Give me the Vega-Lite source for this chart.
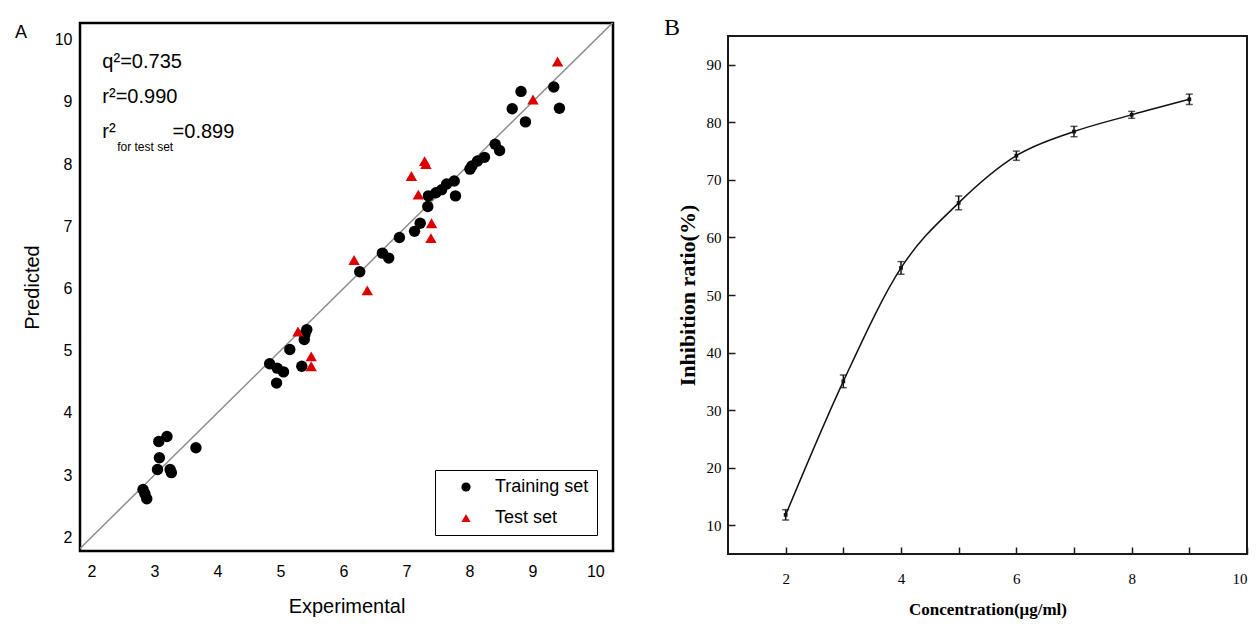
{
  "$schema": "https://vega.github.io/schema/vega-lite/v6.json",
  "background": "white",
  "padding": {"left": 13, "top": 15, "right": 5, "bottom": 5},
  "spacing": 47,
  "config": {"axis": {"grid": false}},
  "resolve": {"legend": {"color": "independent", "shape": "independent"}, "scale": {"color": "independent", "shape": "independent"}},
  "datasets": {
    "qsar": [
      {"exp": 2.82, "pred": 2.77, "set": "Training set"},
      {"exp": 2.85, "pred": 2.70, "set": "Training set"},
      {"exp": 2.88, "pred": 2.62, "set": "Training set"},
      {"exp": 3.05, "pred": 3.09, "set": "Training set"},
      {"exp": 3.08, "pred": 3.28, "set": "Training set"},
      {"exp": 3.07, "pred": 3.54, "set": "Training set"},
      {"exp": 3.20, "pred": 3.62, "set": "Training set"},
      {"exp": 3.25, "pred": 3.09, "set": "Training set"},
      {"exp": 3.27, "pred": 3.04, "set": "Training set"},
      {"exp": 3.66, "pred": 3.44, "set": "Training set"},
      {"exp": 4.83, "pred": 4.79, "set": "Training set"},
      {"exp": 4.95, "pred": 4.72, "set": "Training set"},
      {"exp": 4.94, "pred": 4.48, "set": "Training set"},
      {"exp": 5.05, "pred": 4.66, "set": "Training set"},
      {"exp": 5.15, "pred": 5.02, "set": "Training set"},
      {"exp": 5.34, "pred": 4.75, "set": "Training set"},
      {"exp": 5.38, "pred": 5.18, "set": "Training set"},
      {"exp": 5.42, "pred": 5.34, "set": "Training set"},
      {"exp": 5.39, "pred": 5.26, "set": "Training set"},
      {"exp": 6.26, "pred": 6.27, "set": "Training set"},
      {"exp": 6.62, "pred": 6.57, "set": "Training set"},
      {"exp": 6.72, "pred": 6.49, "set": "Training set"},
      {"exp": 6.89, "pred": 6.82, "set": "Training set"},
      {"exp": 7.13, "pred": 6.92, "set": "Training set"},
      {"exp": 7.22, "pred": 7.05, "set": "Training set"},
      {"exp": 7.34, "pred": 7.32, "set": "Training set"},
      {"exp": 7.35, "pred": 7.49, "set": "Training set"},
      {"exp": 7.47, "pred": 7.54, "set": "Training set"},
      {"exp": 7.56, "pred": 7.59, "set": "Training set"},
      {"exp": 7.64, "pred": 7.68, "set": "Training set"},
      {"exp": 7.76, "pred": 7.73, "set": "Training set"},
      {"exp": 7.78, "pred": 7.49, "set": "Training set"},
      {"exp": 8.01, "pred": 7.92, "set": "Training set"},
      {"exp": 8.04, "pred": 7.97, "set": "Training set"},
      {"exp": 8.13, "pred": 8.05, "set": "Training set"},
      {"exp": 8.24, "pred": 8.11, "set": "Training set"},
      {"exp": 8.41, "pred": 8.32, "set": "Training set"},
      {"exp": 8.48, "pred": 8.22, "set": "Training set"},
      {"exp": 8.68, "pred": 8.89, "set": "Training set"},
      {"exp": 8.82, "pred": 9.17, "set": "Training set"},
      {"exp": 8.89, "pred": 8.68, "set": "Training set"},
      {"exp": 9.34, "pred": 9.24, "set": "Training set"},
      {"exp": 9.43, "pred": 8.90, "set": "Training set"},
      {"exp": 5.28, "pred": 5.31, "set": "Test set"},
      {"exp": 5.49, "pred": 4.91, "set": "Test set"},
      {"exp": 5.49, "pred": 4.75, "set": "Test set"},
      {"exp": 6.17, "pred": 6.46, "set": "Test set"},
      {"exp": 6.38, "pred": 5.97, "set": "Test set"},
      {"exp": 7.08, "pred": 7.81, "set": "Test set"},
      {"exp": 7.29, "pred": 8.05, "set": "Test set"},
      {"exp": 7.31, "pred": 8.00, "set": "Test set"},
      {"exp": 7.19, "pred": 7.51, "set": "Test set"},
      {"exp": 7.40, "pred": 7.05, "set": "Test set"},
      {"exp": 7.39, "pred": 6.81, "set": "Test set"},
      {"exp": 9.01, "pred": 9.04, "set": "Test set"},
      {"exp": 9.40, "pred": 9.65, "set": "Test set"}
    ],
    "diag": [{"exp": 1.5, "pred": 1.5}, {"exp": 10.5, "pred": 10.5}],
    "notes": [
      {"label": "q²=0.735"},
      {"label": "r²=0.990"},
      {"label": "r²"},
      {"label": "for test set"},
      {"label": "=0.899"},
      {"label": "A"},
      {"label": "B"}
    ],
    "inhib": [
      {"conc": 2, "ratio": 11.8, "err": 0.9},
      {"conc": 3, "ratio": 35.0, "err": 1.1},
      {"conc": 4, "ratio": 54.7, "err": 1.1},
      {"conc": 5, "ratio": 66.0, "err": 1.2},
      {"conc": 6, "ratio": 74.2, "err": 0.8},
      {"conc": 7, "ratio": 78.4, "err": 0.9},
      {"conc": 8, "ratio": 81.3, "err": 0.6},
      {"conc": 9, "ratio": 84.0, "err": 0.9}
    ]
  },
  "hconcat": [
    {
      "width": 533,
      "height": 528,
      "view": {"stroke": "black", "strokeWidth": 2.5},
      "layer": [
        {
          "data": {"name": "diag"},
          "mark": {"type": "line", "color": "#8c8c8c", "strokeWidth": 1.5, "clip": true},
          "encoding": {
            "x": {"field": "exp", "type": "quantitative", "title": "Experimental", "scale": {"domain": [1.82, 10.28], "nice": false, "zero": false}},
            "y": {"field": "pred", "type": "quantitative", "title": "Predicted", "scale": {"domain": [1.78, 10.27], "nice": false, "zero": false}}
          }
        },
        {
          "data": {"name": "qsar"},
          "mark": {"type": "point", "filled": true, "opacity": 1, "size": 130},
          "encoding": {
            "x": {"field": "exp", "type": "quantitative", "title": "Experimental", "scale": {"domain": [1.82, 10.28], "nice": false, "zero": false},
                  "axis": {"title": "Experimental", "values": [2, 3, 4, 5, 6, 7, 8, 9, 10], "format": "d", "ticks": false, "domain": false,
                           "labelFont": "Liberation Sans", "labelFontSize": 16, "labelColor": "black", "labelPadding": 12,
                           "titleFont": "Liberation Sans", "titleFontSize": 20, "titleFontWeight": "normal", "titleColor": "black", "titlePadding": 17}},
            "y": {"field": "pred", "type": "quantitative", "title": "Predicted", "scale": {"domain": [1.78, 10.27], "nice": false, "zero": false},
                  "axis": {"title": "Predicted", "values": [2, 3, 4, 5, 6, 7, 8, 9, 10], "format": "d", "ticks": false, "domain": false,
                           "labelFont": "Liberation Sans", "labelFontSize": 16, "labelColor": "black", "labelPadding": 8,
                           "titleFont": "Liberation Sans", "titleFontSize": 20, "titleFontWeight": "normal", "titleColor": "black", "titlePadding": 12}},
            "color": {"field": "set", "type": "nominal", "scale": {"domain": ["Training set", "Test set"], "range": ["black", "#dd0000"]},
                      "legend": {"title": null, "orient": "bottom-right", "offset": 16, "strokeColor": "black", "fillColor": "white", "padding": 8,
                                 "symbolOffset": 14, "labelOffset": 20, "labelFont": "Liberation Sans", "labelFontSize": 18, "labelColor": "black",
                                 "symbolSize": 85, "rowPadding": 13}},
            "shape": {"field": "set", "type": "nominal", "scale": {"domain": ["Training set", "Test set"], "range": ["circle", "triangle-up"]}}
          }
        },
        {
          "data": {"name": "notes"},
          "transform": [{"filter": "datum.label === 'q²=0.735'"}],
          "mark": {"type": "text", "align": "left", "baseline": "middle", "font": "Liberation Sans", "fontSize": 20, "color": "black"},
          "encoding": {"x": {"datum": 2.175, "type": "quantitative"}, "y": {"datum": 9.64, "type": "quantitative"}, "text": {"field": "label"}}
        },
        {
          "data": {"name": "notes"},
          "transform": [{"filter": "datum.label === 'r²=0.990'"}],
          "mark": {"type": "text", "align": "left", "baseline": "middle", "font": "Liberation Sans", "fontSize": 20, "color": "black"},
          "encoding": {"x": {"datum": 2.175, "type": "quantitative"}, "y": {"datum": 9.08, "type": "quantitative"}, "text": {"field": "label"}}
        },
        {
          "data": {"name": "notes"},
          "transform": [{"filter": "datum.label === 'r²'"}],
          "mark": {"type": "text", "align": "left", "baseline": "middle", "font": "Liberation Sans", "fontSize": 20, "color": "black"},
          "encoding": {"x": {"datum": 2.175, "type": "quantitative"}, "y": {"datum": 8.52, "type": "quantitative"}, "text": {"field": "label"}}
        },
        {
          "data": {"name": "notes"},
          "transform": [{"filter": "datum.label === 'for test set'"}],
          "mark": {"type": "text", "align": "left", "baseline": "middle", "font": "Liberation Sans", "fontSize": 12, "color": "black"},
          "encoding": {"x": {"datum": 2.41, "type": "quantitative"}, "y": {"datum": 8.28, "type": "quantitative"}, "text": {"field": "label"}}
        },
        {
          "data": {"name": "notes"},
          "transform": [{"filter": "datum.label === '=0.899'"}],
          "mark": {"type": "text", "align": "left", "baseline": "middle", "font": "Liberation Sans", "fontSize": 20, "color": "black"},
          "encoding": {"x": {"datum": 3.29, "type": "quantitative"}, "y": {"datum": 8.52, "type": "quantitative"}, "text": {"field": "label"}}
        },
        {
          "data": {"name": "notes"},
          "transform": [{"filter": "datum.label === 'A'"}],
          "mark": {"type": "text", "align": "left", "baseline": "alphabetic", "font": "Liberation Sans", "fontSize": 18, "color": "black"},
          "encoding": {"x": {"datum": 0.788, "type": "quantitative"}, "y": {"datum": 10.03, "type": "quantitative"}, "text": {"field": "label"}}
        }
      ]
    },
    {
      "spacing": -9,
      "vconcat": [
        {
          "width": 519,
          "height": 1,
          "view": {"stroke": null},
          "data": {"name": "notes"},
          "mark": {"type": "rect", "opacity": 0}
        },
        {
          "width": 519,
          "height": 518,
          "view": {"stroke": "#1a1a1a", "strokeWidth": 2},
          "layer": [
            {
              "data": {"name": "inhib"},
              "mark": {"type": "line", "interpolate": "monotone", "color": "#111111", "strokeWidth": 1.5},
              "encoding": {
                "x": {"field": "conc", "type": "quantitative", "title": "Concentration(μg/ml)", "scale": {"domain": [1, 10], "nice": false, "zero": false},
                      "axis": {"title": "Concentration(μg/ml)", "values": [2, 3, 4, 5, 6, 7, 8, 9, 10], "format": "d", "labelExpr": "datum.value % 2 === 0 ? datum.label : ''",
                               "tickSize": -7, "tickColor": "#1a1a1a", "tickWidth": 1.5, "domain": false, "labelPadding": 24,
                               "labelFont": "Liberation Serif", "labelFontSize": 15, "labelColor": "black",
                               "titleFont": "Liberation Serif", "titleFontSize": 17, "titleFontWeight": "bold", "titleColor": "black", "titlePadding": 15}},
                "y": {"field": "ratio", "type": "quantitative", "title": "Inhibition ratio(%)", "scale": {"domain": [5, 95], "nice": false, "zero": false},
                      "axis": {"title": "Inhibition ratio(%)", "values": [10, 15, 20, 25, 30, 35, 40, 45, 50, 55, 60, 65, 70, 75, 80, 85, 90], "format": "d", "labelExpr": "datum.value % 10 === 0 ? datum.label : ''",
                               "tickSize": -7, "tickColor": "#1a1a1a", "tickWidth": 1.5, "domain": false, "labelPadding": 14,
                               "labelFont": "Liberation Serif", "labelFontSize": 15, "labelColor": "black",
                               "titleFont": "Liberation Serif", "titleFontSize": 22, "titleFontWeight": "bold", "titleColor": "black", "titlePadding": 7}}
              }
            },
            {
              "data": {"name": "inhib"},
              "mark": {"type": "errorbar", "color": "#111111", "ticks": {"size": 7, "thickness": 1.5}, "thickness": 1.5},
              "encoding": {
                "x": {"field": "conc", "type": "quantitative", "title": "Concentration(μg/ml)", "scale": {"domain": [1, 10], "nice": false, "zero": false}},
                "y": {"field": "ratio", "type": "quantitative", "title": "Inhibition ratio(%)", "scale": {"domain": [5, 95], "nice": false, "zero": false}},
                "yError": {"field": "err"}
              }
            },
            {
              "data": {"name": "inhib"},
              "mark": {"type": "point", "shape": "square", "filled": true, "size": 14, "color": "#111111", "opacity": 1},
              "encoding": {
                "x": {"field": "conc", "type": "quantitative", "title": "Concentration(μg/ml)", "scale": {"domain": [1, 10], "nice": false, "zero": false}},
                "y": {"field": "ratio", "type": "quantitative", "title": "Inhibition ratio(%)", "scale": {"domain": [5, 95], "nice": false, "zero": false}}
              }
            },
            {
              "data": {"name": "notes"},
              "transform": [{"filter": "datum.label === 'B'"}],
              "mark": {"type": "text", "align": "left", "baseline": "alphabetic", "font": "Liberation Serif", "fontSize": 24, "color": "black"},
              "encoding": {"x": {"datum": -0.11, "type": "quantitative"}, "y": {"datum": 95.17, "type": "quantitative"}, "text": {"field": "label"}}
            }
          ]
        }
      ]
    }
  ]
}
